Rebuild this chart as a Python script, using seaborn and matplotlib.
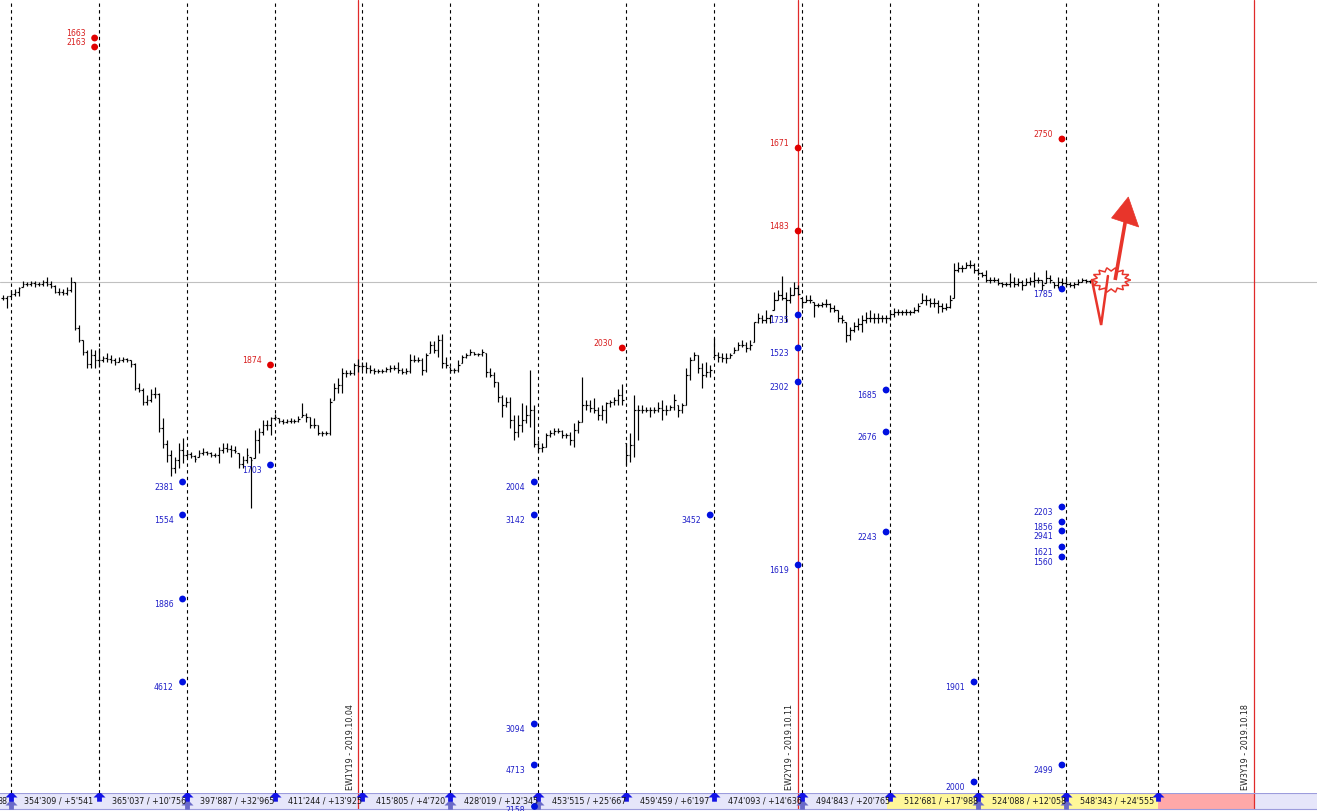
import numpy as np
import pandas as pd
import matplotlib
matplotlib.use("Agg")
import matplotlib.pyplot as plt
import seaborn as sns
from matplotlib.patches import Polygon

sns.set_theme(style="white")
plt.rcParams['font.family'] = ['DejaVu Sans']

# ---------------- data (hourly bars, price level units) ----------------
high = [705,704,710,711,713,719,718,719,719,718,
        720,723,719,715,712,711,713,723,718,675,
        660,650,651,650,652,644,647,645,642,643,
        643,642,640,637,617,612,605,611,613,607,
        582,560,550,543,557,562,550,548,545,550,
        552,549,548,547,553,557,557,555,554,547,
        544,552,543,570,572,580,580,583,586,582,
        581,581,582,581,584,597,587,583,582,575,
        569,569,602,617,622,632,630,630,637,641,
        638,638,635,632,631,631,633,635,635,638,
        632,632,646,645,643,642,647,659,659,665,
        666,643,633,632,640,645,647,651,648,647,
        651,647,632,628,618,605,603,603,585,585,
        597,595,630,595,560,557,567,570,572,572,
        570,567,568,577,580,623,600,600,602,593,
        595,598,600,603,611,616,557,567,605,595,
        595,593,593,593,598,600,595,595,606,595,
        597,632,643,648,645,637,638,635,662,648,
        647,647,647,653,658,660,658,660,678,687,
        685,690,685,708,710,724,708,713,718,715,
        702,705,705,698,697,698,701,697,695,690,
        685,678,673,678,682,685,688,690,687,687,
        685,685,690,692,691,690,691,690,693,697,
        707,705,702,702,700,697,697,705,737,738,
        735,738,740,737,732,728,730,723,723,722,
        718,718,727,723,722,720,722,723,728,723,
        720,730,725,718,723,722,721,718,718,721,
        722,721,720]
low = [700,692,703,704,704,713,714,714,713,714,
       714,714,712,707,705,705,705,708,670,658,
       645,632,632,632,633,638,638,637,635,638,
       638,638,633,610,608,595,595,598,602,568,
       552,538,524,527,532,537,543,542,538,543,
       545,545,543,543,537,547,548,543,547,532,
       532,537,492,542,547,565,570,565,580,577,
       576,577,577,577,578,583,578,572,572,565,
       564,565,565,600,607,607,623,625,625,628,
       630,627,627,626,627,627,628,628,630,627,
       626,626,627,638,638,625,628,647,647,643,
       632,632,627,627,628,637,642,645,645,644,
       644,623,623,613,598,583,593,572,560,563,
       568,577,573,553,548,548,553,563,565,567,
       562,562,555,553,567,578,590,588,587,580,
       580,577,593,595,595,595,535,538,543,560,
       587,588,583,587,588,580,585,590,590,583,
       587,595,620,640,627,612,623,623,643,638,
       638,637,642,647,650,653,648,650,658,677,
       677,677,677,690,700,700,678,697,705,705,
       692,698,697,683,693,693,693,688,688,678,
       677,658,660,668,670,668,677,678,677,677,
       678,677,680,683,685,685,685,685,687,688,
       697,695,693,693,687,688,690,692,702,728,
       728,732,732,727,725,723,718,717,718,715,
       713,714,713,713,714,710,715,715,713,717,
       710,717,717,712,712,713,713,713,712,715,
       718,717,717]
close = [702,704,706,708,712,716,716,717,716,716,
         718,716,714,708,708,707,710,718,672,660,
         648,636,645,640,640,642,641,640,638,640,
         641,640,636,612,610,598,600,606,606,572,
         556,545,532,540,550,545,546,544,541,547,
         548,547,545,545,550,552,551,550,549,536,
         540,545,540,560,568,575,575,582,583,579,
         578,579,579,579,581,585,583,575,575,567,
         567,567,598,612,615,627,627,627,635,634,
         634,632,630,629,629,629,631,632,632,630,
         628,629,640,640,640,630,645,655,650,660,
         637,635,630,630,635,643,645,648,646,646,
         648,628,625,618,603,595,598,580,568,575,
         580,585,590,556,552,553,565,567,569,569,
         565,565,560,570,578,595,595,592,590,585,
         590,597,598,600,605,600,545,555,590,590,
         590,590,590,590,592,590,590,593,600,590,
         595,625,640,645,632,625,628,630,645,643,
         642,642,645,650,655,655,652,655,678,682,
         680,682,685,700,705,702,700,705,712,706,
         698,700,700,695,695,696,696,692,690,682,
         680,665,670,674,676,680,682,682,682,682,
         682,682,686,688,688,688,688,688,690,694,
         700,700,697,697,694,692,693,700,730,732,
         732,735,735,730,727,725,720,720,720,717,
         716,716,718,716,718,715,718,719,720,720,
         715,722,720,715,718,717,716,715,716,718,
         720,719,719]
assert len(high) == len(low) == len(close)

session_start = [2, 24, 46, 68, 90, 112, 134, 156, 178, 200, 222, 244, 266, 289]
double_mark = [2, 46, 112, 134, 200, 244, 266]
week_end = [89, 199, 313.1]
week_labels = ["EW1Y19 - 2019.10.04", "EW2Y19 - 2019.10.11", "EW3Y19 - 2019.10.18"]
ref_level = 718

sup_bar = [23, 23, 67, 155, 199, 199, 265]
sup_level = [962, 953, 635, 652, 852, 769, 861]
sup_text = ["1663", "2163", "1874", "2030", "1671", "1483", "2750"]

dem_bar = [45, 45, 45, 45, 67, 133, 133, 133, 133, 177, 199, 199, 199, 199,
           221, 221, 221, 243, 243, 265, 265, 265, 265, 265, 265, 265]
dem_level = [518, 485, 401, 318, 535, 518, 485, 276, 235, 485, 685, 652, 618, 435,
             610, 568, 468, 318, 218, 711, 493, 478, 469, 453, 443, 235]
dem_text = ["2381", "1554", "1886", "4612", "1703", "2004", "3142", "3094", "4713", "3452",
            "1735", "1523", "2302", "1619", "1685", "2676", "2243", "1901", "2000",
            "1785", "2203", "1856", "2941", "1621", "1560", "2499"]
hidden_bar, hidden_level, hidden_text = 133, 194, "2158"

strip_text = ["354'309 / +5'541", "365'037 / +10'756", "397'887 / +32'965",
              "411'244 / +13'925", "415'805 / +4'720", "428'019 / +12'345",
              "453'515 / +25'667", "459'459 / +6'197", "474'093 / +14'636",
              "494'843 / +20'765", "512'681 / +17'988", "524'088 / +12'058",
              "548'343 / +24'555"]
yellow_span = (221.2, 289)
pink_span = (289, 313.1)

# ---------------- figure ----------------
W, H = 1317, 811
fig = plt.figure(figsize=(W / 100, H / 100), dpi=100)
fig.patch.set_facecolor("white")
x_left, x_right = -0.675, 328.8

ax = fig.add_axes([0, 18 / H, 1, 793 / H])
ax.set_zorder(3)
ax.set_facecolor("white")
ax.set_xlim(x_left, x_right)
ax.set_ylim(1000 - 793, 1000)
for s in ax.spines.values():
    s.set_visible(False)
ax.set_xticks([])
ax.set_yticks([])

# session separators
for sb in session_start:
    ax.axvline(sb, color="black", lw=0.8, linestyle=(0, (3, 3)), zorder=1)
for we in week_end:
    ax.axvline(we, color="#E02A2A", lw=0.9, zorder=2)
ax.axhline(ref_level, color="#C0C0C0", lw=0.8, zorder=1)

# OHLC bars
xb = np.arange(len(high))
hi = np.array(high, float)
lo = np.array(low, float)
cl = np.array(close, float)
op = np.clip(np.r_[cl[0], cl[:-1]], lo, hi)
ax.vlines(xb, lo, hi, color="black", lw=0.85, zorder=3)
ax.hlines(op, xb - 0.42, xb, color="black", lw=0.85, zorder=3)
ax.hlines(cl, xb, xb + 0.42, color="black", lw=0.85, zorder=3)

# level dots
df = pd.DataFrame({
    "bar": sup_bar + dem_bar,
    "level": sup_level + dem_level,
    "kind": ["sup"] * len(sup_bar) + ["dem"] * len(dem_bar),
})
sns.scatterplot(data=df, x="bar", y="level", hue="kind",
                palette={"sup": "#E00000", "dem": "#0010E0"},
                s=24, linewidth=0, legend=False, ax=ax, zorder=6)
ax.set_xlabel("")
ax.set_ylabel("")
for b, l, t in zip(sup_bar, sup_level, sup_text):
    ax.annotate(t, (b, l), xytext=(-6.5, 3.3), textcoords="offset points",
                ha="right", va="center", fontsize=5.6, color="#D81E1E", zorder=6)
for b, l, t in zip(dem_bar, dem_level, dem_text):
    ax.annotate(t, (b, l), xytext=(-6.5, -4.3), textcoords="offset points",
                ha="right", va="center", fontsize=5.6, color="#1E1EC8", zorder=6)
ax.scatter([hidden_bar], [hidden_level], s=24, color="#0010E0", linewidth=0,
           clip_on=False, zorder=8)
ax.annotate(hidden_text, (hidden_bar, hidden_level), xytext=(-6.5, -3.0),
            textcoords="offset points", ha="right", va="center", fontsize=5.6,
            color="#1E1EC8", annotation_clip=False, zorder=8)

# week labels
for we, lab in zip(week_end, week_labels):
    ax.text(we - 2.1, 1000 - 790, lab, rotation=90, ha="center", va="bottom",
            fontsize=5.8, color="#222222", zorder=4)

# red projection drawing
red = "#E8352B"
cx, cy = 277.3, 720
ang = np.linspace(0, 2 * np.pi, 29)[:-1]
rad = np.where(np.arange(len(ang)) % 2 == 0, 1.0, 0.72)
star = np.c_[cx + 4.9 * rad * np.cos(ang), cy + 12.5 * rad * np.sin(ang)]
ax.add_patch(Polygon(star, closed=True, fill=False, edgecolor=red, lw=1.1, zorder=7))
ax.plot([272.5, 274.8, 276.5], [720, 675, 724], color=red, lw=1.8,
        solid_joinstyle="miter", zorder=7)
ax.plot([278.3, 281.0], [720, 782], color=red, lw=2.6, solid_capstyle="butt", zorder=7)
ax.add_patch(Polygon([[281.6, 803], [277.4, 782], [284.2, 773]], closed=True,
                     facecolor=red, edgecolor=red, lw=0.5, zorder=7))

# ---------------- bottom info strip ----------------
sax = fig.add_axes([0, 2 / H, 1, 16 / H])
sax.set_zorder(1)
sax.set_xlim(x_left, x_right)
sax.set_ylim(0, 1)
sax.set_facecolor("#E6E6FA")
sax.set_xticks([])
sax.set_yticks([])
for k in ["left", "right"]:
    sax.spines[k].set_visible(False)
for k in ["top", "bottom"]:
    sax.spines[k].set_color("#9C9CDC")
    sax.spines[k].set_linewidth(0.8)
sax.axvspan(*yellow_span, color="#FFF799", lw=0, zorder=0)
sax.axvspan(*pink_span, color="#FFA8A8", lw=0, zorder=0)
for we in week_end:
    sax.axvline(we, color="#E02A2A", lw=0.9, zorder=2)

arrow_marker = [(-1, 0), (0, 1), (1, 0), (0.4, 0), (0.4, -0.7), (-0.4, -0.7), (-0.4, 0), (-1, 0)]
sax.scatter(session_start, [0.74] * len(session_start), marker=arrow_marker, s=75,
            color="#1414E6", linewidth=0, zorder=4)
sax.scatter(double_mark, [0.24] * len(double_mark), marker=arrow_marker, s=75,
            color="#6A6AC8", linewidth=0, zorder=3, clip_on=False)
for sb, t in zip(session_start, strip_text):
    sax.text(sb + 3.4, 0.5, t, ha="left", va="center", fontsize=5.8,
             color="#1A1A1A", zorder=5)
sax.text(1.3, 0.5, "88", ha="right", va="center", fontsize=5.8, color="#1A1A1A", zorder=5)

fig.savefig("out.png", dpi=100, facecolor="white")
